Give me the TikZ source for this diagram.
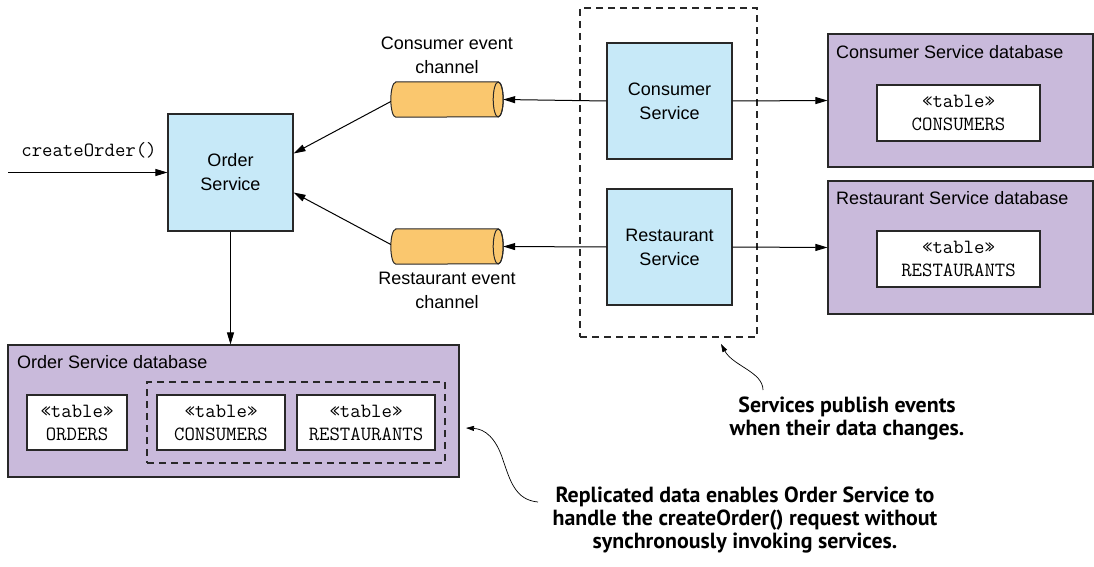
\documentclass[tikz,border=0pt]{standalone}
\usepackage{fontspec}
\setmainfont{Liberation Sans}
\newfontfamily\notefont{PT Sans}
\usetikzlibrary{arrows.meta}
\definecolor{svcblue}{RGB}{199,233,248}
\definecolor{dbpurple}{RGB}{201,186,219}
\definecolor{chorange}{RGB}{250,199,110}
\definecolor{linegray}{RGB}{40,40,40}
\newcommand{\codefnt}{\ttfamily\fontsize{20.2}{23}\selectfont}
\begin{document}
\begin{tikzpicture}[x=1pt,y=-1pt,
  box/.style={draw=linegray, line width=1.1pt, inner sep=0pt, align=center},
  svc/.style={box, fill=svcblue, minimum width=125pt, minimum height=116pt, font=\fontsize{18}{24}\selectfont},
  db/.style={box, fill=dbpurple},
  tbl/.style={box, fill=white, minimum height=56pt, font=\codefnt},
  dbl/.style={anchor=west, inner sep=0pt, font=\fontsize{18}{21}\selectfont},
  lbl/.style={inner sep=0pt, align=center, font=\fontsize{18}{24}\selectfont},
  chan/.style={draw=none, minimum width=112pt, minimum height=35pt, inner sep=0pt},
  dashbox/.style={draw=linegray, line width=1.1pt, dash pattern=on 7pt off 5pt, inner sep=0pt},
  arr/.style={-{Triangle[length=12pt,width=7pt]}, line width=1pt, draw=black},
  notearr/.style={-{Triangle[length=8pt,width=5pt]}, line width=0.7pt},
  note/.style={inner sep=0pt, align=center, font=\notefont\bfseries\fontsize{21.9}{23}\selectfont}
]
\useasboundingbox (0,0) rectangle (1094,567);

% services group
\node[dashbox, minimum width=177pt, minimum height=329pt] (grp) at (668.5,172.5) {};
\node[svc] (cs) at (669.5,101) {Consumer\\Service};
\node[svc] (rs) at (669.5,247) {Restaurant\\Service};

% order service
\node[svc, minimum height=117pt] (os) at (230.5,172.5) {Order\\Service};

% channels
\node[chan] (cc) at (447,99.5) {};
\node[chan] (rc) at (447,246.5) {};
\foreach \c in {cc,rc}{
  \path[fill=chorange, draw=linegray, line width=1pt]
    ([xshift=5pt]\c.north west) -- ([xshift=-5pt]\c.north east)
    arc[start angle=90, end angle=-90, x radius=5pt, y radius=17.5pt]
    -- ([xshift=5pt]\c.south west)
    arc[start angle=270, end angle=90, x radius=5pt, y radius=17.5pt] -- cycle;
  \draw[linegray, line width=1pt] ([xshift=-5pt]\c.east) ellipse[x radius=5pt, y radius=17.5pt];
}
\node[lbl] (ccl) at (447,55) {Consumer event\\channel};
\node[lbl] (rcl) at (447,290) {Restaurant event\\channel};

% right databases
\node[db, minimum width=265pt, minimum height=133pt] (cdb) at (960.5,100.5) {};
\node[dbl] (cdbl) at (836,52) {Consumer Service database};
\node[tbl, minimum width=163pt] (ct) at (958.5,113) {«table»\\CONSUMERS};
\node[db, minimum width=265pt, minimum height=133pt] (rdb) at (960.5,247.5) {};
\node[dbl] (rdbl) at (836,198) {Restaurant Service database};
\node[tbl, minimum width=163pt] (rt) at (958.5,259) {«table»\\RESTAURANTS};

% order database
\node[db, minimum width=451pt, minimum height=132pt] (odb) at (233.5,411) {};
\node[dbl] (odbl) at (17,362) {Order Service database};
\node[dashbox, minimum width=298pt, minimum height=81pt] (rep) at (296,422.5) {};
\node[tbl, minimum width=100pt, minimum height=55pt] (ot) at (77,422.5) {«table»\\ORDERS};
\node[tbl, minimum width=128pt, minimum height=55pt] (oct) at (221,422.5) {«table»\\CONSUMERS};
\node[tbl, minimum width=138pt, minimum height=55pt] (ort) at (366,422.5) {«table»\\RESTAURANTS};

% createOrder
\coordinate (in) at (8,172.5);
\node[inner sep=0pt, font=\codefnt] (col) at (89,150) {createOrder()};

% connectors
\draw[arr] (in) -- (os.west);
\draw[arr] (os.south) -- (os.south |- odb.north);
\draw[arr] (cs.west) -- (cc.east);
\draw[arr] (rs.west) -- (rc.east);
\draw[arr] (cs.east) -- (cdb.west);
\draw[arr] (rs.east) -- (rdb.west);
\draw[arr] ([yshift=-2pt]cc.west) -- ([yshift=19pt]os.east);
\draw[arr] ([yshift=2pt]rc.west) -- ([yshift=-20pt]os.east);

% notes
\node[note] (n1) at (847,418.5) {Services publish events\\when their data changes.};
\node[note] (n2) at (745,520) {Replicated data enables Order Service to\\handle the createOrder() request without\\synchronously invoking services.};
\coordinate (n1s) at (763,390);
\coordinate (n1e) at (721,344);
\draw[notearr] (n1s) .. controls (763,372) and (733,366) .. (n1e);
\coordinate (n2s) at (538,502);
\coordinate (n2m) at (503,460);
\coordinate (n2e) at (466,428);
\draw[notearr] (n2s) .. controls (515,500) and (510,480) .. (n2m) .. controls (496,438) and (485,429) .. (n2e);
\end{tikzpicture}
\end{document}
